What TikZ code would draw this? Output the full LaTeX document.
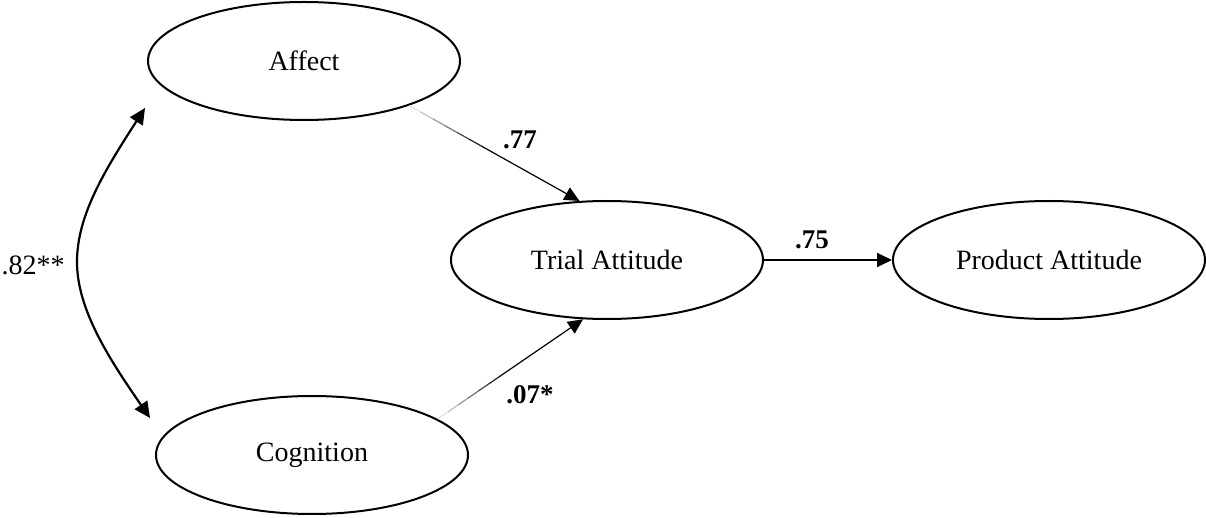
\documentclass[tikz,border=0pt]{standalone}
\usepackage{fontspec}
\setmainfont{Liberation Serif}
\usetikzlibrary{shapes.geometric,arrows.meta,calc}
\tikzset{
  latent/.style={draw, ellipse, line width=1pt, minimum width=156pt, minimum height=59pt, inner sep=0pt, font=\fontsize{14}{16}\selectfont},
  coef/.style={font=\fontsize{13.5}{16}\selectfont\bfseries, inner sep=0pt},
  corr/.style={font=\fontsize{14}{16}\selectfont, inner sep=0pt},
  path/.style={line width=0.6pt, -{Triangle[length=7.5pt,width=7pt]}},
}
\newcommand{\fadedpath}[2]{%
  \foreach \s/\e/\g in {0/0.07/12,0.07/0.14/25,0.14/0.21/40,0.21/0.28/55,0.28/0.35/72,0.35/0.42/88}{
    \draw[line width=0.6pt, black!\g] ($(#1)!\s!(#2)$) -- ($(#1)!\e!(#2)$);
  }
  \draw[path] ($(#1)!0.42!(#2)$) -- (#2);
}
\begin{document}
\begin{tikzpicture}[x=0.5pt,y=-0.5pt]
\useasboundingbox (0,0) rectangle (1206,518);
\node[latent] (A) at (304,61) {Affect};
\node[latent] (T) at (607,260) {Trial Attitude};
\node[latent] (P) at (1049,260) {Product Attitude};
\node[latent] (C) at (312,455) {Cognition};
% paths
\coordinate (a1) at (A.-23);
\coordinate (t1) at (T.115);
\coordinate (c1) at (C.16);
\coordinate (t2) at (T.-112);
\fadedpath{a1}{t1}
\fadedpath{c1}{t2}
\draw[path, line width=0.9pt] (T.east) -- (P.west);
% correlation
\coordinate (k1) at (145,108);
\coordinate (k2) at (150,418);
\draw[line width=1.1pt, {Triangle[length=8pt,width=7.5pt]}-{Triangle[length=8pt,width=7.5pt]}]
  (k1) .. controls (105,170) and (77,215) .. (77,262) .. controls (77,310) and (110,360) .. (k2);
% labels
\node[coef] (l77) at (520,140) {.77};
\node[coef] (l75) at (812,240) {.75};
\node[coef] (l07) at (530,395) {.07*};
\node[corr, anchor=east] (l82) at (65,265) {.82**};
\end{tikzpicture}
\end{document}
